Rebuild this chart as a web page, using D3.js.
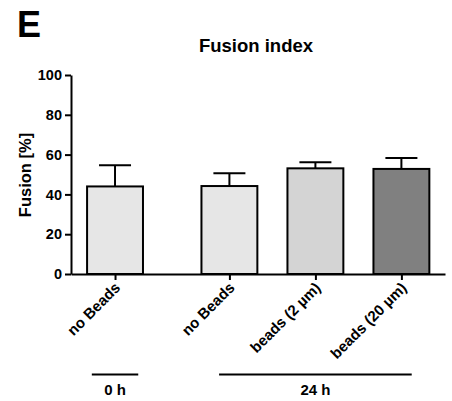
<!DOCTYPE html>
<html>
<head>
<meta charset="utf-8">
<script src="https://cdn.jsdelivr.net/npm/d3@7"></script>
<style>
  body { margin: 0; background: #fff; }
  text { font-family: "Liberation Sans", Arial, sans-serif; font-weight: bold; fill: #000; }
</style>
</head>
<body>
<script>
// data
var categories = ["no Beads", "no Beads", "beads (2 \u00b5m)", "beads (20 \u00b5m)"];
var groupOf = [0, 1, 1, 1];
var means = [44.0, 44.2, 53.1, 52.8];
var sds = [10.6, 6.4, 3.0, 5.5];
var groups = ["0 h", "24 h"];
var barColors = ["#e6e6e6", "#e6e6e6", "#d4d4d4", "#808080"];
var yTicks = [0, 20, 40, 60, 80, 100];

var width = 452, height = 401;

var svg = d3.select("body").append("svg")
    .attr("width", width)
    .attr("height", height);

// slot index, with an extra gap between the two time groups
var slots = categories.map(function(d, i) { return i + groupOf[i] * 0.33; });

var x = d3.scaleLinear().domain([-0.512, 3.837]).range([71, 445]);
var y = d3.scaleLinear().domain([0, 100]).range([274, 75]);
var barW = 0.65 * 86;

// panel letter + title
svg.append("text").attr("x", 17).attr("y", 37)
    .style("font-size", "36px").text("E");
svg.append("text").attr("x", 256).attr("y", 52)
    .attr("text-anchor", "middle").style("font-size", "18.5px").text("Fusion index");

// bars
svg.selectAll("rect.bar")
    .data(means)
    .enter().append("rect")
    .attr("class", "bar")
    .attr("x", function(d, i) { return x(slots[i]) - barW / 2; })
    .attr("y", function(d) { return y(d); })
    .attr("width", barW)
    .attr("height", function(d) { return y(0) - y(d); })
    .attr("fill", function(d, i) { return barColors[i]; })
    .attr("stroke", "#000")
    .attr("stroke-width", 2);

// error bars (upper only)
var err = svg.selectAll("g.err")
    .data(means)
    .enter().append("g")
    .attr("class", "err")
    .attr("stroke", "#000")
    .attr("stroke-width", 2);
err.append("line")
    .attr("x1", function(d, i) { return x(slots[i]); })
    .attr("x2", function(d, i) { return x(slots[i]); })
    .attr("y1", function(d) { return y(d); })
    .attr("y2", function(d, i) { return y(d + sds[i]); });
err.append("line")
    .attr("x1", function(d, i) { return x(slots[i]) - 16; })
    .attr("x2", function(d, i) { return x(slots[i]) + 16; })
    .attr("y1", function(d, i) { return y(d + sds[i]); })
    .attr("y2", function(d, i) { return y(d + sds[i]); });

// y axis
var yAxis = svg.append("g")
    .attr("transform", "translate(71,0)")
    .call(d3.axisLeft(y).tickValues(yTicks).tickSize(6).tickSizeOuter(0).tickPadding(3));
yAxis.selectAll("text").style("font-size", "14.5px").style("font-family", "Liberation Sans, Arial, sans-serif");

// x axis
var xAxis = svg.append("g")
    .attr("transform", "translate(0,274)")
    .call(d3.axisBottom(x).tickValues(slots).tickSize(6).tickSizeOuter(0)
        .tickFormat(function(d, i) { return categories[i]; }));
xAxis.selectAll("text")
    .style("font-size", "15px")
    .style("font-family", "Liberation Sans, Arial, sans-serif")
    .attr("text-anchor", "end")
    .attr("dy", "0.35em")
    .attr("y", 0)
    .attr("transform", "translate(2,11) rotate(-45)");

[yAxis, xAxis].forEach(function(a) {
  a.selectAll("path, line").attr("stroke", "#000").attr("stroke-width", 2);
});

svg.append("text")
    .attr("transform", "translate(31,175) rotate(-90)")
    .attr("text-anchor", "middle")
    .style("font-size", "16.5px")
    .text("Fusion [%]");

// group brackets under the labels
var groupExt = groups.map(function(g, gi) {
  var idx = slots.filter(function(s, i) { return groupOf[i] === gi; });
  var single = idx.length === 1;
  var pad = single ? 0.27 : 0.12;
  return [d3.min(idx) - pad, d3.max(idx) + pad];
});

svg.selectAll("line.grp")
    .data(groups)
    .enter().append("line")
    .attr("class", "grp")
    .attr("x1", function(d, i) { return x(groupExt[i][0]); })
    .attr("x2", function(d, i) { return x(groupExt[i][1]); })
    .attr("y1", 374.5).attr("y2", 374.5)
    .attr("stroke", "#000").attr("stroke-width", 2);

svg.selectAll("text.grp")
    .data(groups)
    .enter().append("text")
    .attr("class", "grp")
    .attr("x", function(d, i) { return x((groupExt[i][0] + groupExt[i][1]) / 2); })
    .attr("y", 395)
    .attr("text-anchor", "middle")
    .style("font-size", "15px")
    .text(function(d) { return d; });
</script>
</body>
</html>
